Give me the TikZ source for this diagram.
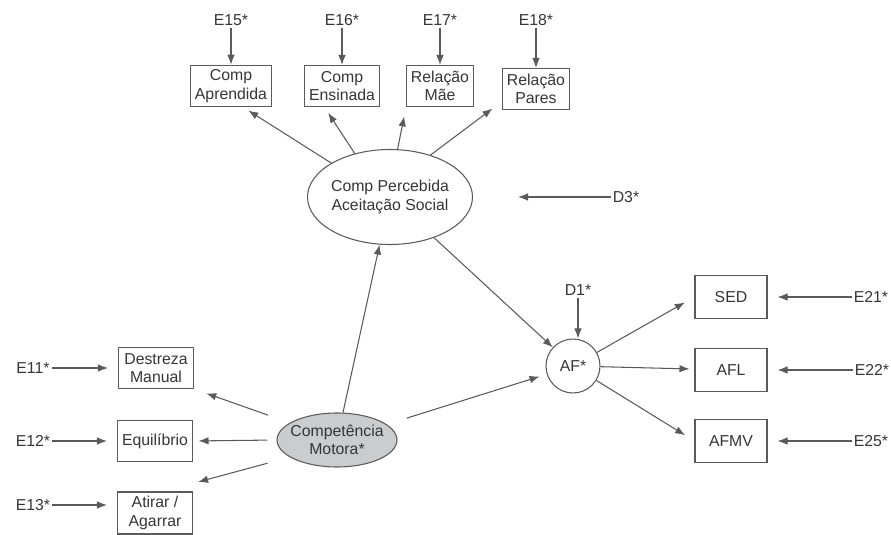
\documentclass[tikz,border=0pt]{standalone}
\usepackage{fontspec}
\setmainfont{Liberation Sans}
\usetikzlibrary{arrows.meta,shapes.geometric}
\definecolor{semink}{HTML}{353535}
\definecolor{semline}{HTML}{5A5A5A}
\definecolor{semfill}{HTML}{C9CDD0}
\tikzset{
  bx/.style={align=center, font=\fontsize{9}{10.5}\selectfont, text=semink},
  ind/.style={bx, draw=semline, line width=0.6pt, inner sep=2.5pt, minimum height=8.2mm},
  indl/.style={ind, minimum width=15mm},
  indr/.style={ind, minimum width=14.4mm, minimum height=8.6mm},
  lat/.style={bx, ellipse, draw=semline, line width=0.6pt, inner ysep=0pt, inner xsep=-2.5pt},
  err/.style={bx, inner sep=1pt},
  arr/.style={-{Latex[length=2mm, width=1.5mm]}, line width=0.6pt, color=semline},
}
\begin{document}
\begin{tikzpicture}[x=0.2mm,y=-0.2mm]
  \useasboundingbox (0,0) rectangle (891,535);
  \node[ind] (ca) at (231,86) {Comp\\Aprendida};
  \node[ind] (ce) at (342,86) {Comp\\Ensinada};
  \node[ind] (rm) at (440,86) {Relação\\Mãe};
  \node[ind] (rp) at (536,89) {Relação\\Pares};
  \foreach \nm/\xx/\lab in {e15/231/E15*,e16/342/E16*,e17/440/E17*,e18/536/E18*}
    \node[err] (\nm) at (\xx,20) {\lab};
  \node[lat, minimum width=33mm, minimum height=19mm] (cp) at (390,197) {Comp Percebida\\Aceitação Social};
  \node[err] (d3) at (626,197) {D3*};
  \node[lat, fill=semfill, minimum width=24mm, minimum height=10.8mm] (cm) at (337,440) {Competência\\Motora*};
  \node[bx, circle, draw=semline, line width=0.6pt, minimum size=10.8mm, inner sep=0pt] (af) at (573,366) {AF*};
  \node[err] (d1) at (578,290) {D1*};
  \node[indl] (dm) at (156,368) {Destreza\\Manual};
  \node[indl] (eq) at (155,441) {Equilíbrio};
  \node[indl] (aa) at (155,513) {Atirar /\\Agarrar};
  \node[err] (e11) at (33,368) {E11*};
  \node[err] (e12) at (33,441) {E12*};
  \node[err] (e13) at (33,505) {E13*};
  \node[indr] (sed) at (731,297) {SED};
  \node[indr] (afl) at (731,370) {AFL};
  \node[indr] (afmv) at (731,441) {AFMV};
  \node[err] (e21) at (871,297) {E21*};
  \node[err] (e22) at (872,370) {E22*};
  \node[err] (e25) at (871,441) {E25*};

  \foreach \src/\dst in {e15/ca,e16/ce,e17/rm,e18/rp,cm/cp,cp/af}
    \draw[arr] (\src) -- (\dst);
  \draw[arr] (d1) -- (d1 |- af.north);
  \foreach \src/\dst in {e11/dm,e12/eq,e21/sed,e22/afl,e25/afmv}
    \draw[arr, shorten >=2mm] (\src) -- (\dst);
  \draw[arr, shorten >=2mm] (e13) -- (e13 -| aa.west);
  \draw[arr, shorten >=9mm] (d3) -- (cp.east);
  \draw[arr, shorten >=1.2mm] (cp.150) -- (ca.-60);
  \draw[arr, shorten >=1.4mm] (cp.129) -- (ce.-130);
  \draw[arr, shorten >=1.9mm] (cp.81) -- (rm.south west);
  \draw[arr, shorten >=2.4mm] (cp.46) -- (rp.-160);
  \draw[arr, shorten <=4.6mm, shorten >=2.6mm] (cm.160) -- (dm.south east);
  \draw[arr, shorten <=1.8mm, shorten >=1.1mm] (cm.west) -- (eq.east);
  \draw[arr, shorten <=4.6mm, shorten >=7.3mm] (cm.200) -- (aa.70);
  \draw[arr, shorten <=4.2mm, shorten >=1.5mm] (cm) -- (af);
  \draw[arr, shorten >=2.2mm] (af) -- (sed.west);
  \draw[arr, shorten >=1mm] (af) -- (afl);
  \draw[arr, shorten >=2.2mm] (af) -- (afmv.west);
\end{tikzpicture}
\end{document}
